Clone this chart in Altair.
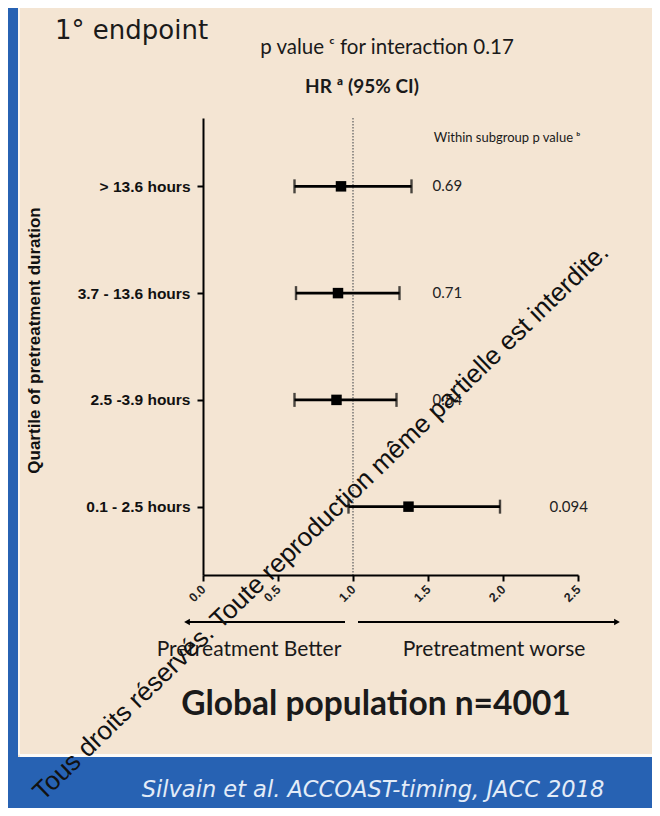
import altair as alt
import pandas as pd

# ---- data ----
groups = ["> 13.6 hours", "3.7 - 13.6 hours", "2.5 -3.9 hours", "0.1 - 2.5 hours"]
hr = [0.92, 0.90, 0.89, 1.37]
lo = [0.61, 0.62, 0.61, 0.97]
hi = [1.39, 1.31, 1.29, 1.98]
pvals = ["0.69", "0.71", "0.54", "0.094"]
x_ticks = [0.0, 0.5, 1.0, 1.5, 2.0, 2.5]

# p value column sits at a fixed HR position unless the CI reaches past it
p_at = [1.53 if h < 1.5 else h + 0.33 for h in hi]

df = pd.DataFrame({"group": groups, "hr": hr, "lo": lo, "hi": hi, "p": pvals, "p_at": p_at})
one = pd.DataFrame({"k": [0]})

BEIGE = "#f4e5d3"
BLUE = "#2762b3"

W, H = 375, 457
PAD = {"left": 195, "top": 110, "right": 74, "bottom": 233}

xscale = alt.Scale(domain=[0, 2.5], nice=False, zero=True)
yscale = alt.Scale(type="point", domain=groups, padding=0.64)

xaxis = alt.Axis(values=x_ticks, format=".1f", labelAngle=-45, labelAlign="right",
                 labelBaseline="middle", title=None, grid=False,
                 domainColor="black", domainWidth=2, tickColor="black", tickWidth=2,
                 tickSize=6, labelFont="Liberation Sans", labelFontWeight="bold",
                 labelFontSize=12.5, labelColor="#222", labelPadding=6, zindex=1)
yaxis = alt.Axis(title="Quartile of pretreatment duration", grid=False,
                 domainColor="black", domainWidth=2, tickColor="black", tickWidth=2,
                 tickSize=6, labelFont="Liberation Sans", labelFontWeight="bold",
                 labelFontSize=15.5, labelColor="#111", labelPadding=7,
                 titleFont="Liberation Sans", titleFontWeight="bold", titleFontSize=17,
                 titleColor="#111", titleX=-160, titleY=222, titleAngle=-90, zindex=1)

base = alt.Chart(df)

# frame decorations
def rect(x1, x2, y1, y2, color):
    return alt.Chart(one).mark_rect(color=color).encode(
        x=alt.value(x1), x2=alt.value(x2), y=alt.value(y1), y2=alt.value(y2))

deco = [
    rect(-195, -185, -110, 690, BLUE),
    rect(-185, -183, -110, 637, "#fbf6ef"),
    rect(-183, 449, 636, 639, "#fdfbf8"),
    rect(-195, 449, 639, 690, BLUE),
]

ref = alt.Chart(one).mark_rule(color="#666", strokeDash=[1.5, 1.5], strokeWidth=1.3).encode(
    x=alt.datum(1.0, scale=xscale, axis=xaxis))

ci = base.mark_rule(color="black", strokeWidth=2.6).encode(
    x=alt.X("lo:Q", scale=xscale, axis=xaxis),
    x2="hi:Q",
    y=alt.Y("group:N", scale=yscale, axis=yaxis, sort=groups))
cap_lo = base.mark_tick(color="black", thickness=2.4, size=14, orient="vertical").encode(
    x=alt.X("lo:Q", scale=xscale), y=alt.Y("group:N", scale=yscale, sort=groups))
cap_hi = base.mark_tick(color="black", thickness=2.4, size=14, orient="vertical").encode(
    x=alt.X("hi:Q", scale=xscale), y=alt.Y("group:N", scale=yscale, sort=groups))
pt = base.mark_square(color="black", size=110, opacity=1).encode(
    x=alt.X("hr:Q", scale=xscale), y=alt.Y("group:N", scale=yscale, sort=groups))
ptxt = base.mark_text(font="Lato", fontSize=15, color="#222", align="left", baseline="middle").encode(
    x=alt.X("p_at:Q", scale=xscale), y=alt.Y("group:N", scale=yscale, sort=groups), text="p:N")

def txt(s, x, y, size, font="Lato", weight="normal", style="normal", color="#1a1a1a",
        align="center", angle=0):
    return alt.Chart(one).mark_text(text=s, font=font, fontSize=size, fontWeight=weight,
                                    fontStyle=style, color=color, align=align,
                                    baseline="middle", angle=angle).encode(
        x=alt.value(x), y=alt.value(y))

texts = [
    txt("1° endpoint", -148, -87, 26, font="DejaVu Sans", align="left"),
    txt("p value ᶜ for interaction 0.17", 184, -70, 20.5),
    txt("HR ª (95% CI)", 159, -31, 19, weight="bold"),
    txt("Within subgroup p value ᵇ", 304, 20, 13),
    txt("Pretreatment Better", 46, 532, 21),
    txt("Pretreatment worse", 291, 532, 21),
    txt("Global population n=4001", 173, 587, 33.5, weight="bold"),
    txt("Silvain et al. ACCOAST-timing, JACC 2018", 170, 672, 22.5, font="DejaVu Sans",
        style="italic", color="#e3ecf8"),
]

arrows = [
    alt.Chart(one).mark_rule(color="black", strokeWidth=2).encode(
        x=alt.value(-14), x2=alt.value(142), y=alt.value(504)),
    alt.Chart(one).mark_rule(color="black", strokeWidth=2).encode(
        x=alt.value(155), x2=alt.value(412), y=alt.value(504)),
    alt.Chart(one).mark_point(shape="triangle-left", filled=True, color="black", size=45, opacity=1).encode(
        x=alt.value(-16), y=alt.value(504)),
    alt.Chart(one).mark_point(shape="triangle-right", filled=True, color="black", size=45, opacity=1).encode(
        x=alt.value(414), y=alt.value(504)),
]

watermark = txt("Tous droits réservés. Toute reproduction même partielle est interdite.",
                118, 404, 26, font="Liberation Sans", color="#111", angle=316)

chart = alt.layer(*deco, ref, ci, cap_lo, cap_hi, pt, ptxt, *texts, *arrows, watermark).properties(
    width=W, height=H,
    autosize=alt.AutoSizeParams(type="none"),
    padding=PAD,
    background=BEIGE,
).configure_view(stroke=None)

chart.save("out.html", embed_options={"renderer": "svg", "actions": False})
